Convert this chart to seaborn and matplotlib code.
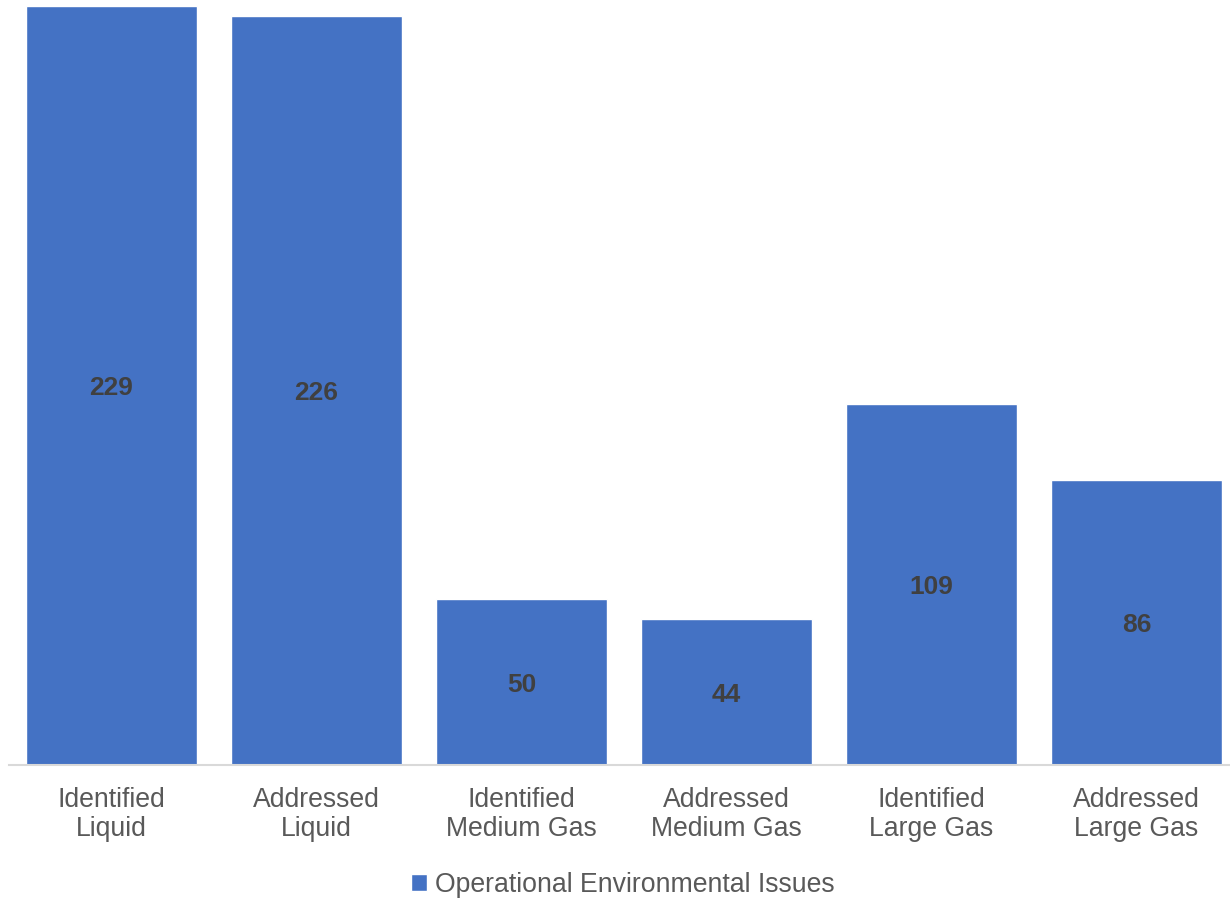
import pandas as pd
import seaborn as sns
import matplotlib.pyplot as plt

# Chart values
categories = ['Identified\nLiquid', 'Addressed\nLiquid', 'Identified\nMedium Gas',
              'Addressed\nMedium Gas', 'Identified\nLarge Gas', 'Addressed\nLarge Gas']
issues = [229, 226, 50, 44, 109, 86]
series_name = 'Operational Environmental Issues'

df = pd.DataFrame({'category': categories, 'count': issues})

sns.set_style('white')
plt.rcParams['font.family'] = ['Liberation Sans', 'DejaVu Sans']

fig = plt.figure(figsize=(12.3, 8.98), dpi=100)
# axes spans baseline from x=9px; right edge runs past the image like the original
ax = fig.add_axes([9 / 1230, 133 / 898, 1230 / 1230, 759 / 898])

sns.barplot(data=df, x='category', y='count', color='#4472C4', saturation=1,
            width=0.834, ax=ax, label=series_name)

ax.set_xlim(-0.5, 5.5)
ax.set_ylim(0, 229)
ax.set_xlabel('')
ax.set_ylabel('')
ax.set_yticks([])
ax.tick_params(axis='x', length=0, pad=16, labelsize=19.2, labelcolor='#595959')
for lbl in ax.get_xticklabels():
    lbl.set_linespacing(1.15)

for side in ['top', 'right', 'left']:
    ax.spines[side].set_visible(False)
ax.spines['bottom'].set_color('#D9D9D9')
ax.spines['bottom'].set_linewidth(1.5)

# value labels in the middle of each bar
for i, v in enumerate(issues):
    ax.text(i, v / 2, str(v), ha='center', va='center_baseline', fontsize=19,
            fontweight='bold', color='#404040')

if ax.get_legend():
    ax.get_legend().remove()
handles, labels = ax.get_legend_handles_labels()
fig.legend(handles, labels, loc='center', bbox_to_anchor=(0.506, 1 - 885 / 898),
           frameon=False, fontsize=19.2, labelcolor='#595959',
           handlelength=0.6, handleheight=0.6, handletextpad=0.3)

fig.savefig('out.png', dpi=100)
